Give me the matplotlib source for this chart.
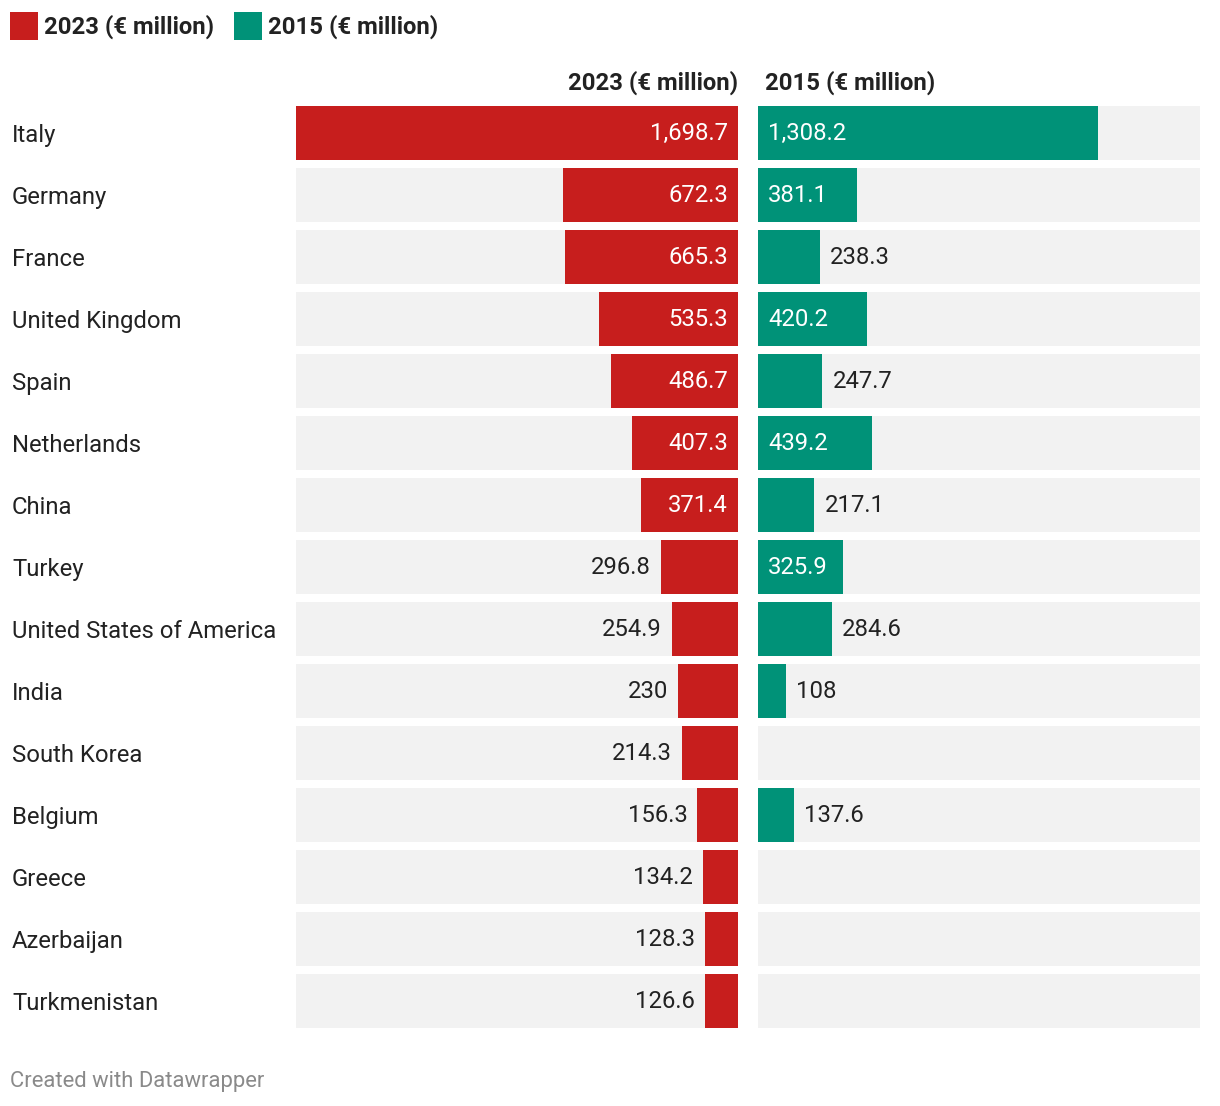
"""
Split bar chart: 2023 vs 2015 (€ million), Datawrapper style.
"""
import numpy as np
import matplotlib
matplotlib.use("Agg")
import matplotlib.pyplot as plt
from matplotlib.patches import Rectangle

plt.rcParams['font.family'] = ['Roboto', 'DejaVu Sans']

RED = "#c71e1d"
GREEN = "#009278"
TRACK = "#f2f2f2"
TEXT = "#222222"
FOOT = "#8a8a8a"

countries = ["Italy", "Germany", "France", "United Kingdom", "Spain", "Netherlands",
             "China", "Turkey", "United States of America", "India", "South Korea",
             "Belgium", "Greece", "Azerbaijan", "Turkmenistan"]
values_2023 = [1698.7, 672.3, 665.3, 535.3, 486.7, 407.3, 371.4, 296.8, 254.9,
               230, 214.3, 156.3, 134.2, 128.3, 126.6]
values_2015 = [1308.2, 381.1, 238.3, 420.2, 247.7, 439.2, 217.1, 325.9, 284.6,
               108, np.nan, 137.6, np.nan, np.nan, np.nan]

W, H = 1220, 1106
DPI = 100
FS = 17.2
fig = plt.figure(figsize=(W / DPI, H / DPI), dpi=DPI, facecolor="white")


def px_axes(x0, y0, x1, y1):
    # y measured from top, in pixels
    return fig.add_axes([x0 / W, 1 - y1 / H, (x1 - x0) / W, (y1 - y0) / H])


def fmt(v):
    s = f"{v:,.1f}"
    return s[:-2] if s.endswith(".0") else s


vmax = max(values_2023)
n = len(countries)
rows = np.arange(n)
bar_h = 54 / 62
px = 72 / DPI
pad_pt = 10 * px
base_pt = -7 * px   # baseline below row centre
inside_min = 300

top, bottom = 102, 102 + 62 * n
ax_l = px_axes(296, top, 738, bottom)
ax_r = px_axes(758, top, 1200, bottom)

for ax in (ax_l, ax_r):
    ax.barh(rows, [vmax] * n, height=bar_h, color=TRACK, edgecolor="none")
    ax.set_xlim(0, vmax)
    ax.set_ylim(n - 0.5, -0.5)
    ax.axis("off")
ax_l.invert_xaxis()

ax_l.barh(rows, values_2023, height=bar_h, color=RED, edgecolor="none")
ax_r.barh(rows, np.nan_to_num(values_2015), height=bar_h, color=GREEN, edgecolor="none")

for i, v in enumerate(values_2023):
    inside = v > inside_min
    ax_l.annotate(fmt(v), (0 if inside else v, i), xytext=(-pad_pt, base_pt),
                  textcoords="offset points", ha="right", va="baseline",
                  color="white" if inside else TEXT, fontsize=FS)

for i, v in enumerate(values_2015):
    if np.isnan(v):
        continue
    inside = v > inside_min
    ax_r.annotate(fmt(v), (0 if inside else v, i), xytext=(pad_pt, base_pt),
                  textcoords="offset points", ha="left", va="baseline",
                  color="white" if inside else TEXT, fontsize=FS)

# country labels
for i, c in enumerate(countries):
    fig.text(12 / W, 1 - (133 + 9 + 62 * i) / H, c, ha="left", va="baseline",
             color=TEXT, fontsize=FS)

# column headers
fig.text(738 / W, 1 - 83 / H, "2023 (€ million)", ha="right", va="center",
         color=TEXT, fontsize=FS, fontweight="bold")
fig.text(765 / W, 1 - 83 / H, "2015 (€ million)", ha="left", va="center",
         color=TEXT, fontsize=FS, fontweight="bold")

# legend
for x0, col, label in [(10, RED, "2023 (€ million)"), (234, GREEN, "2015 (€ million)")]:
    fig.patches.append(Rectangle((x0 / W, 1 - 40 / H), 28 / W, 28 / H,
                                 transform=fig.transFigure, color=col, ec="none"))
    fig.text((x0 + 34) / W, 1 - 27 / H, label, ha="left", va="center",
             color=TEXT, fontsize=FS, fontweight="bold")

fig.text(10 / W, 1 - 1081 / H, "Created with Datawrapper", ha="left", va="center",
         color=FOOT, fontsize=15.8)

fig.savefig("out.png", dpi=DPI, facecolor="white")
